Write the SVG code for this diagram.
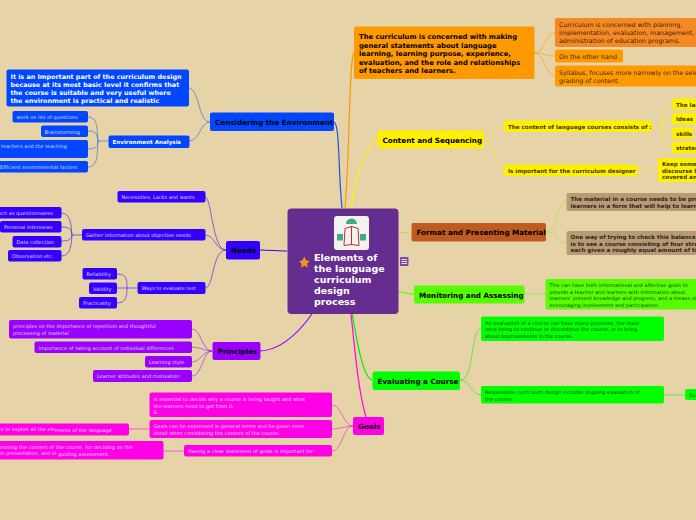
<svg xmlns="http://www.w3.org/2000/svg" width="696" height="520" viewBox="0 0 696 520">
<style>
text{font-family:"DejaVu Sans",Verdana,sans-serif}
.l{fill:none;stroke-width:1;stroke-opacity:.55}
.m{fill:none;stroke-width:1.2}
.t1{font-size:7.2px;font-weight:700;fill:#000}
.t2{font-size:5.6px;font-weight:700}
.t3{font-size:5px}
.w{fill:#fff}.wl{fill:#dcd8ff}.k{fill:#000;fill-opacity:.8}
.blue{fill:#0047ff}.ind{fill:#3300ff}.pur{fill:#9900ff}.mag{fill:#ff00e6}
.org{fill:#ff9900}.yel{fill:#fff000}.tan{fill:#b89b75}.lime{fill:#55ff00}.grn{fill:#00ff00}
</style>
<rect width="696" height="520" fill="#e6d3a8"/>
<g id="connectors">
<path class="m" stroke="#2255e0" d="M334 122C340 125 338 170 342 208"/>
<path class="m" stroke="#ff9900" d="M354 53C349 56 350 150 345 208"/>
<path class="m" stroke="#fff000" d="M377 139C368 142 358 170 351 208"/>
<path class="m" stroke="#b5e04a" d="M398 233C404 233 405 232 411 232"/>
<path class="m" stroke="#55ff00" d="M398 292C405 292 408 294 414 294"/>
<path class="m" stroke="#00ee00" d="M350 300C355 330 362 378 372 380"/>
<path class="m" stroke="#ff00e6" d="M351 314C355 350 358 390 366 417"/>
<path class="m" stroke="#9900ff" d="M260 351C280 350 297 335 312 314"/>
<path class="m" stroke="#3300ff" d="M260 250C270 250 278 251 287 251"/>
<g stroke="#2255e0">
<path class="l" d="M210 122C198 122 200 90 189 88"/>
<path class="l" d="M210 122C200 122 200 141 189 141"/>
<path class="l" d="M108 141H98M98 141C97 130 98 117 88 117M98 141C97 133 96 131 88 131M98 141C98 146 96 149 88 149M98 141C97 155 98 167 88 167"/>
</g>
<g stroke="#3300ff">
<path class="l" d="M226 250C212 250 212 197 205 197"/>
<path class="l" d="M226 250C215 250 215 235 205 235"/>
<path class="l" d="M226 250C212 250 214 288 205 288"/>
<path class="l" d="M82 235H72M72 235C71 225 71 213 61 213M72 235C71 230 71 227 61 227M72 235C71 239 70 241 61 241M72 235C71 245 71 256 61 256"/>
<path class="l" d="M137 288H127M127 288C127 280 127 274 117 274M127 288H117M127 288C127 296 126 303 117 303"/>
</g>
<g stroke="#9900ff">
<path class="l" d="M212 351C202 351 201 329 192 329"/>
<path class="l" d="M212 351C205 351 200 347 192 347"/>
<path class="l" d="M212 351C203 351 200 362 192 362"/>
<path class="l" d="M212 351C203 351 202 376 192 376"/>
</g>
<g stroke="#ff00e6">
<path class="l" d="M353 426C343 426 342 405 332 405"/>
<path class="l" d="M353 426C345 426 340 429 332 429"/>
<path class="l" d="M353 426C343 426 342 451 332 451"/>
<path class="l" d="M149 429H129M184 451H163"/>
</g>
<g stroke="#ff9900">
<path class="l" d="M534 53C545 53 545 33 555 33"/>
<path class="l" d="M534 53C545 53 545 56 555 56"/>
<path class="l" d="M534 53C545 53 545 76 555 76"/>
</g>
<g stroke="#fff000">
<path class="l" d="M484 139C495 139 495 126 504 126"/>
<path class="l" d="M484 139C495 139 493 170 504 170"/>
<path class="l" d="M652 126H662M662 126C662 116 662 104 672 104M662 126C662 122 662 119 672 119M662 126C662 129 662 133 672 133M662 126C662 135 662 148 672 148"/>
<path class="l" d="M637 170H658"/>
</g>
<path class="l" stroke="#b5e04a" d="M546 232C558 232 555 202 567 202M546 232C558 232 555 243 567 243" style="stroke-opacity:.9"/>
<path class="l" stroke="#55ff00" d="M524 294H546"/>
<g stroke="#00ee00">
<path class="l" d="M460 380C475 380 470 329 481 329"/>
<path class="l" d="M460 380C470 380 472 395 481 395"/>
<path class="l" d="M664 395H685"/>
</g>
</g>
<g id="central">
<rect x="287.500" y="208.500" width="111" height="105.500" rx="4" fill="#662d91"/>
<rect x="334" y="216" width="35" height="34" rx="3" fill="#f3f3ee"/>
<path d="M346 224a5.500 5.500 0 0 1 11 0z" fill="#3fa98d"/>
<rect x="337" y="234" width="6" height="6.500" fill="#3fa98d"/><rect x="360" y="234" width="6" height="6.500" fill="#3fa98d"/>
<path d="M345 228.500L351.500 226.500V244.500L344 245.500ZM358 228.500L351.500 226.500V244.500L359 245.500Z" fill="none" stroke="#c9263f" stroke-width="1"/>
<path d="M299 261.500l3.200-1 2.300-4 1.500 4 3.700 .5-2.700 2.800 .8 3.700-3.300-1.800-3.500 1.800 .7-3.700z" fill="#f7941d"/>
<text x="314" y="261" font-size="9.500" font-weight="700" fill="#fff">Elements of</text>
<text x="314" y="272" font-size="9.500" font-weight="700" fill="#fff">the language</text>
<text x="314" y="283" font-size="9.500" font-weight="700" fill="#fff">curriculum</text>
<text x="314" y="294" font-size="9.500" font-weight="700" fill="#fff">design</text>
<text x="314" y="305" font-size="9.500" font-weight="700" fill="#fff">process</text>
</g>
<g id="note-icon">
<rect x="400" y="257" width="8.500" height="9" rx="1" fill="#7a4aa8"/>
<path d="M401.500 259.500h5.500M401.500 261.500h5.500M401.500 263.500h5.500" stroke="#fff" stroke-width=".8"/>
</g>
<g id="env">
<rect class="blue" x="6.500" y="69.500" width="182.500" height="37" rx="2"/>
<text class="t2 w" style="font-size:6.400px" x="10.500" y="78.500">It is an Import<tspan dy=".5">ant part of the curriculum design</tspan></text>
<text class="t2 w" style="font-size:6.400px" x="10.500" y="86.500">because at its <tspan dy=".5" x="63">most basic level it confirms that</tspan></text>
<text class="t2 w" style="font-size:6.400px" x="10.500" y="94.500">the course is s<tspan dy=".5">uitable and very useful where</tspan></text>
<text class="t2 w" style="font-size:6.400px" x="10.500" y="102.500">the environmen<tspan dy=".5">t is practical and realistic</tspan></text>
<rect class="blue" x="210" y="112.500" width="124" height="18.500" rx="2"/>
<text class="t1" x="215" y="125">Considering the Environment</text>
<rect class="blue" x="108.500" y="135.500" width="81" height="12.500" rx="2"/>
<text class="t2 w" x="112.500" y="144">Environment Analysis</text>
<rect class="blue" x="12.500" y="111" width="75.500" height="11.500" rx="2"/>
<text class="t3 wl" x="16.500" y="119">work on list of questions</text>
<rect class="blue" x="41" y="125.500" width="47" height="11.500" rx="2"/>
<text class="t3 wl" x="44.500" y="133.500">Brainstorming</text>
<rect class="blue" x="-10" y="140" width="98" height="18" rx="2"/>
<text class="t3 wl" x="1" y="148">teachers and the teaching</text>
<rect class="blue" x="-10" y="161" width="98" height="11.500" rx="2"/>
<text class="t3 wl" x="0" y="169">Efficient environmental factors</text>
</g>
<g id="needs">
<rect class="ind" x="226" y="241" width="34" height="18.500" rx="2"/>
<text class="t1" x="231" y="253">Needs</text>
<rect class="ind" x="117.500" y="191" width="88" height="11.500" rx="2"/>
<text class="t3 wl" x="121.500" y="199">Necessities, Lacks and wants</text>
<rect class="ind" x="82" y="229" width="123.500" height="11.500" rx="2"/>
<text class="t3 wl" x="86" y="237">Gather information about objective needs</text>
<rect class="ind" x="-10" y="207" width="71.500" height="11.500" rx="2"/>
<text class="t3 wl" x="-5" y="215">Such as questionnaires</text>
<rect class="ind" x="0" y="221" width="61.500" height="11.500" rx="2"/>
<text class="t3 wl" x="4" y="229">Personal interviews</text>
<rect class="ind" x="12.500" y="236" width="49" height="11.500" rx="2"/>
<text class="t3 wl" x="16.500" y="244">Data collection</text>
<rect class="ind" x="8" y="250" width="53.500" height="11.500" rx="2"/>
<text class="t3 wl" x="12" y="258">Observation etc.</text>
<rect class="ind" x="82.500" y="268" width="34.500" height="11.500" rx="2"/>
<text class="t3 wl" x="86.500" y="276">Reliability</text>
<rect class="ind" x="89" y="282.500" width="28" height="11.500" rx="2"/>
<text class="t3 wl" x="93" y="290.500">Validity</text>
<rect class="ind" x="79" y="297" width="38" height="11.500" rx="2"/>
<text class="t3 wl" x="83" y="305">Practicality</text>
<rect class="ind" x="137.500" y="282" width="68" height="12" rx="2"/>
<text class="t3 wl" x="141.500" y="290">Ways to evaluate test</text>
</g>
<g id="principles">
<rect class="pur" x="212.500" y="342" width="48" height="18" rx="2"/>
<text class="t1" x="217.500" y="354">Principles</text>
<rect class="pur" x="9" y="320" width="183" height="18.500" rx="2"/>
<text class="t3 wl" x="13" y="327.500">principles on the <tspan dy=".7">importance of repetition and thoughtful</tspan></text>
<text class="t3 wl" x="13" y="335">processing of material</text>
<rect class="pur" x="34.500" y="341.500" width="157.500" height="11.500" rx="2"/>
<text class="t3 wl" x="38.500" y="349.500">Importan<tspan dy=".5">ce of taking account of individual differences</tspan></text>
<rect class="pur" x="145" y="356" width="47" height="11.500" rx="2"/>
<text class="t3 wl" x="149" y="364">Learning style</text>
<rect class="pur" x="93" y="370" width="99" height="12" rx="2"/>
<text class="t3 wl" x="97" y="378">Learner attitudes and motivation</text>
</g>
<g id="goals">
<rect class="mag" x="353" y="417" width="31" height="18" rx="2"/>
<text class="t1" x="358" y="429">Goals</text>
<rect class="mag" x="149.500" y="392.500" width="182.500" height="24.500" rx="2"/>
<text class="t3 wl" x="153.500" y="401">Is essential to decide why a course is being taught and what</text>
<text class="t3 wl" x="153.500" y="407.500">the learners need to get from it.</text>
<text class="t3 wl" x="153.500" y="414">G</text>
<rect class="mag" x="149.500" y="420" width="182.500" height="18" rx="2"/>
<text class="t3 wl" x="153.500" y="427.500">Goals can be expressed in general terms and be given more</text>
<text class="t3 wl" x="153.500" y="435">detail when considering the content of the course.</text>
<rect class="mag" x="184" y="445" width="148" height="11.500" rx="2"/>
<text class="t3 wl" x="188" y="453">Having a clear statement of goals is important for:</text>
<rect class="mag" x="-10" y="423.500" width="139" height="12" rx="2"/>
<text class="t3 wl" x="-1" y="431">ts to exploit all the ele<tspan dy=".7">ments of the language</tspan></text>
<rect class="mag" x="-10" y="441" width="173.500" height="18.500" rx="2"/>
<text class="t3 wl" x="0" y="448.500">mining the content of the course, for deciding on the</text>
<text class="t3 wl" x="0" y="455">in presentation, and in <tspan dy=".7">guiding assessment.</tspan></text>
</g>
<g id="curriculum">
<rect class="org" x="354" y="26.500" width="180.500" height="52.500" rx="2"/>
<text class="t2 k" style="font-size:6.800px;fill-opacity:1" x="359" y="39">The curriculum is concerned with making</text>
<text class="t2 k" style="font-size:6.800px;fill-opacity:1" x="359" y="47.500">general statements about language</text>
<text class="t2 k" style="font-size:6.800px;fill-opacity:1" x="359" y="56">learning, learning purpose, experience,</text>
<text class="t2 k" style="font-size:6.800px;fill-opacity:1" x="359" y="64.500">evaluation, and the role and relationships</text>
<text class="t2 k" style="font-size:6.800px;fill-opacity:1" x="359" y="73">of teachers and learners.</text>
<rect x="555" y="18" width="151" height="29" rx="2" fill="#f58a25"/>
<text class="t3 k" style="font-size:6.300px" x="559" y="26.500">Curriculum is concerned with planning,</text>
<text class="t3 k" style="font-size:6.300px" x="559" y="35">implementation, evaluation, management, and</text>
<text class="t3 k" style="font-size:6.300px" x="559" y="43">administration of education programs.</text>
<rect class="org" x="555" y="49.500" width="68" height="13" rx="2"/>
<text class="t3 k" style="font-size:6.300px" x="559" y="58.500">On the other hand</text>
<rect class="org" x="555" y="65.500" width="151" height="21" rx="2"/>
<text class="t3 k" style="font-size:6.300px" x="559" y="74.500">Syllabus, focuses more narrowly on the selection and</text>
<text class="t3 k" style="font-size:6.300px" x="559" y="83">grading of content.</text>
</g>
<g id="content">
<rect class="yel" x="377.500" y="130.500" width="106.500" height="18" rx="2"/>
<text class="t1" x="382.500" y="143">Content and Sequencing</text>
<rect class="yel" x="504" y="120.500" width="148" height="11.500" rx="2"/>
<text class="t2 k" x="508" y="128.500">The content of language courses consists of :</text>
<rect class="yel" x="504" y="164.500" width="133.500" height="11.500" rx="2"/>
<text class="t2 k" x="508" y="172.500">Is important for the curriculum designer</text>
<rect class="yel" x="672" y="98.500" width="34" height="11.500" rx="2"/>
<text class="t2 k" x="676" y="107">The language</text>
<rect class="yel" x="672" y="113" width="34" height="11.500" rx="2"/>
<text class="t2 k" x="676" y="121">Ideas</text>
<rect class="yel" x="672" y="127.500" width="21" height="11.500" rx="2"/>
<text class="t2 k" x="676" y="136">skills</text>
<rect class="yel" x="672" y="142" width="34" height="11.500" rx="2"/>
<text class="t2 k" x="676" y="150">strategies</text>
<rect class="yel" x="658" y="158" width="48" height="24" rx="2"/>
<text class="t2 k" x="662" y="165.500">Keep some</text>
<text class="t2 k" x="662" y="172.500">discourse b</text>
<text class="t2 k" x="662" y="179">covered an</text>
</g>
<g id="format">
<rect x="411.500" y="223" width="134.500" height="18.500" rx="2" fill="#bf5b20"/>
<text class="t1" x="416.500" y="235">Format and Presenting Material</text>
<rect class="tan" x="566.500" y="193" width="140" height="18" rx="2"/>
<text class="t2 k" x="570.500" y="201">The material in a course needs to be presented to</text>
<text class="t2 k" x="570.500" y="207.500">learners in a form that will help to learn.</text>
<rect class="tan" x="566.500" y="231" width="140" height="24" rx="2"/>
<text class="t2 k" x="570.500" y="239">One way of trying to check this balance of strands</text>
<text class="t2 k" x="570.500" y="245.500">is to see a course consisting of four strands,</text>
<text class="t2 k" x="570.500" y="252">each given a roughly equal amount of time.</text>
</g>
<g id="monitoring">
<rect class="lime" x="414" y="285.500" width="110.500" height="18" rx="2"/>
<text class="t1" x="419" y="297.500">Monitoring and Assessing</text>
<rect class="lime" x="545.500" y="279" width="160" height="30.500" rx="2"/>
<text class="t3 k" x="549.500" y="287">This can have both informational and affective goals to</text>
<text class="t3 k" x="549.500" y="294">provide a teacher and learners with information about</text>
<text class="t3 k" x="549.500" y="300">learners' present knowledge and progress, and a means of</text>
<text class="t3 k" x="549.500" y="307">encouraging involvement and participation.</text>
</g>
<g id="evaluating">
<rect class="grn" x="372.500" y="371.500" width="87.500" height="18.500" rx="2"/>
<text class="t1" x="377.500" y="384">Evaluating a Course</text>
<rect class="grn" x="481" y="316.500" width="183" height="24.500" rx="2"/>
<text class="t3 k" x="485" y="324.500">An evaluation of a course can have many purposes, the main</text>
<text class="t3 k" x="485" y="331">ones being to continue or discontinue the course, or to bring</text>
<text class="t3 k" x="485" y="337.500">about improvements in the course.</text>
<rect class="grn" x="481" y="386" width="183" height="17.500" rx="2"/>
<text class="t3 k" x="485" y="394">Responsible curriculum design includes ongoing evaluation of</text>
<text class="t3 k" x="485" y="401">the course.</text>
<rect class="grn" x="685" y="389" width="20" height="11" rx="2"/>
<text class="t3 k" x="689" y="397">Su</text>
</g>
</svg>
